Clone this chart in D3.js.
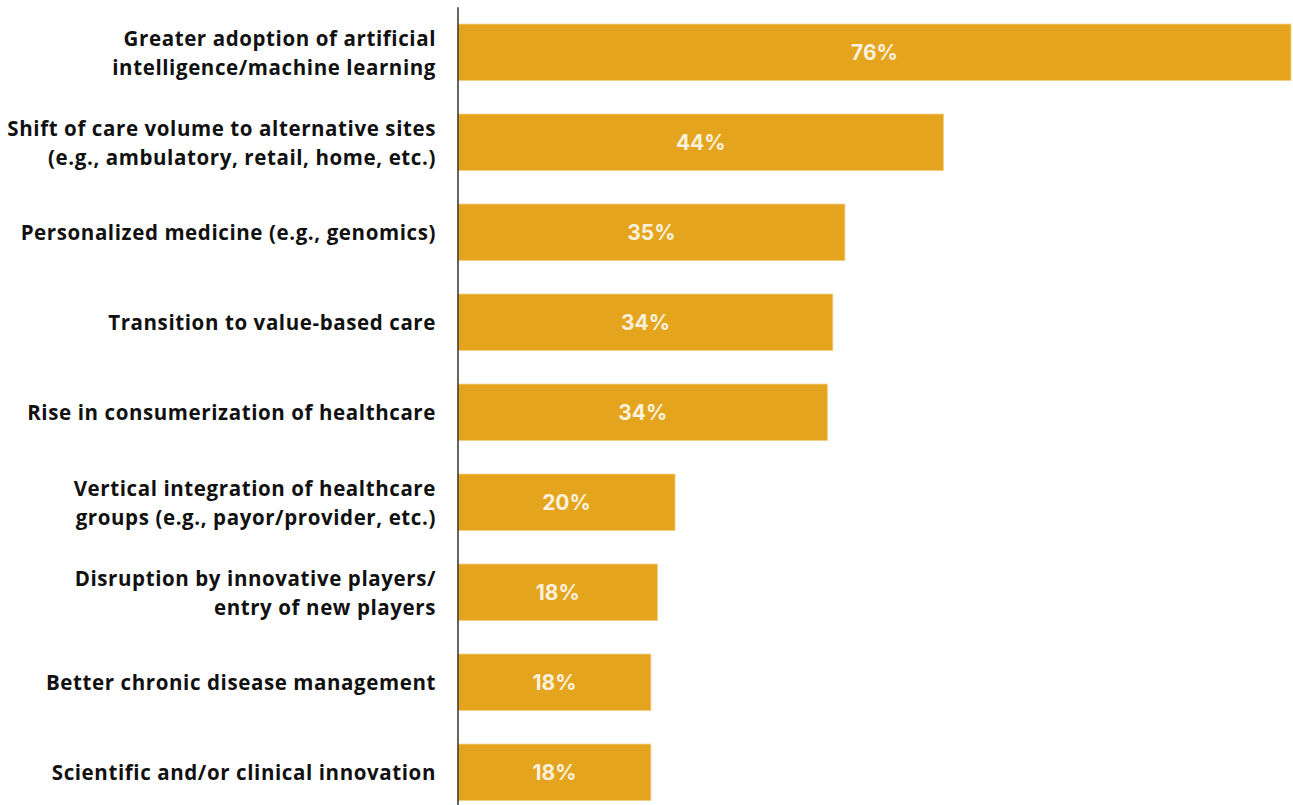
<!DOCTYPE html>
<html>
<head>
<meta charset="utf-8">
<script src="https://cdn.jsdelivr.net/npm/d3@7/dist/d3.min.js"></script>
<style>
  html, body { margin: 0; padding: 0; background: #ffffff; }
  svg { display: block; }
  .cat { font-family: "Open Sans", Inter, sans-serif; font-weight: 700; font-size: 20.5px; letter-spacing: 0.6px; fill: #111111; }
  .val { font-family: Inter, "Open Sans", sans-serif; font-weight: 700; font-size: 21px; fill: #fbf1dc; }
</style>
</head>
<body>
<svg id="chart" width="1293" height="805"></svg>
<script>
// Share of respondents naming each trend (percent)
const categories = [
  ["Greater adoption of artificial", "intelligence/machine learning"],
  ["Shift of care volume to alternative sites", "(e.g., ambulatory, retail, home, etc.)"],
  ["Personalized medicine (e.g., genomics)"],
  ["Transition to value-based care"],
  ["Rise in consumerization of healthcare"],
  ["Vertical integration of healthcare", "groups (e.g., payor/provider, etc.)"],
  ["Disruption by innovative players/", "entry of new players"],
  ["Better chronic disease management"],
  ["Scientific and/or clinical innovation"]
];
const values = [76.0, 44.3, 35.3, 34.2, 33.7, 19.8, 18.2, 17.6, 17.6];

const svg = d3.select("#chart");
const left = 458, right = 1291;

const ids = categories.map((c, i) => i);

const x = d3.scaleLinear().domain([0, 76]).range([left, right]);
const y = d3.scaleBand().domain(ids).range([7.3, 817.3]).paddingInner(0.372).paddingOuter(0.186);

const fmt = v => d3.format(".0f")(v) + "%";

// bars
svg.append("g").selectAll("rect")
  .data(ids)
  .join("rect")
  .attr("x", x(0))
  .attr("y", i => y(i))
  .attr("width", i => x(values[i]) - x(0))
  .attr("height", y.bandwidth())
  .attr("fill", "#e4a41e")
  .attr("stroke", "#f3cf85")
  .attr("stroke-width", 0.8);

// value labels
svg.append("g").selectAll("text")
  .data(ids)
  .join("text")
  .attr("class", "val")
  .attr("x", i => (x(0) + x(values[i])) / 2)
  .attr("y", i => y(i) + y.bandwidth() / 2)
  .attr("text-anchor", "middle")
  .attr("dominant-baseline", "central")
  .text(i => fmt(values[i]));

// category labels
const lineGap = 29;
const cats = svg.append("g").selectAll("text")
  .data(ids)
  .join("text")
  .attr("class", "cat")
  .attr("text-anchor", "end")
  .attr("dominant-baseline", "central");
cats.each(function(i) {
  const lines = categories[i];
  const cy = y(i) + y.bandwidth() / 2;
  const t = d3.select(this);
  lines.forEach((ln, k) => {
    t.append("tspan")
      .attr("x", left - 22)
      .attr("y", cy + (k - (lines.length - 1) / 2) * lineGap)
      .text(ln);
  });
});

// vertical axis line
svg.append("line")
  .attr("x1", left).attr("x2", left)
  .attr("y1", y.range()[0]).attr("y2", y.range()[1])
  .attr("stroke", "#333333")
  .attr("stroke-width", 1.5);
</script>
</body>
</html>
